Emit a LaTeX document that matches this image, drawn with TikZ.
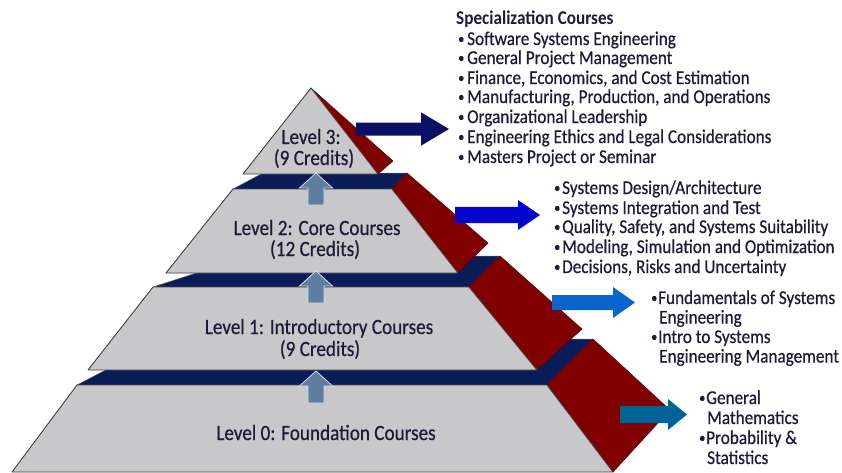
\documentclass[tikz,border=0pt]{standalone}
\usepackage{fontspec}
\setmainfont{Carlito}
\newfontfamily\cf[FakeStretch=0.88,FakeBold=0.6]{Carlito}
\newfontfamily\cfb[FakeStretch=0.88]{Carlito Bold}
\definecolor{pgray}{RGB}{200,200,203}
\definecolor{pnavy}{RGB}{10,28,88}
\definecolor{pred}{RGB}{128,0,0}
\definecolor{txt}{RGB}{28,28,58}
\definecolor{upblue}{RGB}{94,126,160}
\definecolor{arrthree}{RGB}{10,16,100}
\definecolor{arrtwo}{RGB}{5,5,205}
\definecolor{arrone}{RGB}{10,100,205}
\definecolor{arrzero}{RGB}{0,100,150}
\newcommand\bl[1]{\makebox[#1pt][l]{\raisebox{1.6pt}{\scalebox{0.72}{\textbullet}}}}
\newcommand\UpArr[3]{%
  \fill[upblue, draw=white!75!upblue, line width=.8pt]
    (#1-8,#3) -- (#1-8,#2+15) -- (#1-16.5,#2+15) -- (#1,#2) --
    (#1+16.5,#2+15) -- (#1+8,#2+15) -- (#1+8,#3) -- cycle;}
\newcommand\RtArr[7]{%
  \fill[#7] (#1,#4-#5) -- (#2,#4-#5) -- (#2,#4-#6) -- (#3,#4) --
    (#2,#4+#6) -- (#2,#4+#5) -- (#1,#4+#5) -- cycle;}
\begin{document}
\begin{tikzpicture}[x=1pt,y=-1pt,
  front/.style={fill=pgray, draw=black!75, line width=.9pt, line join=round},
  topface/.style={fill=pnavy, draw=black!60, line width=.5pt, line join=round},
  side/.style={fill=pred, draw=pred!60!black, line width=.5pt, line join=round},
  lst/.style={anchor=base west, inner sep=0pt, text=txt, font=\cf\fontsize{19.5}{20}\selectfont},
  lvl/.style={anchor=base, inner sep=0pt, text=txt, font=\cf\fontsize{21.8}{22}\selectfont}]
\useasboundingbox (0,0) rectangle (842,472);
% Tier 0
\draw[topface] (77,385) -- (547,385) -- (593,339) -- (165,339) -- cycle;
\draw[side] (547,385) -- (593,339) -- (670,410) -- (613,472) -- cycle;
\draw[front] (77,385) -- (547,385) -- (613,472) -- (12,472) -- cycle;
% Tier 1
\draw[topface] (153,287) -- (469,287) -- (500,256) -- (249,256) -- cycle;
\draw[side] (469,287) -- (500,256) -- (582,329) -- (537,370) -- cycle;
\draw[front] (153,287) -- (469,287) -- (537,370) -- (88,370) -- cycle;
% Tier 2
\draw[topface] (233,189) -- (392,189) -- (407,173) -- (263,173) -- cycle;
\draw[side] (392,189) -- (407,173) -- (488,243) -- (458,273) -- cycle;
\draw[front] (233,189) -- (392,189) -- (458,273) -- (166,273) -- cycle;
% Tier 3
\draw[side] (311,88) -- (393,161) -- (378,174) -- cycle;
\draw[front] (311,88) -- (378,174) -- (243,174) -- cycle;
% up arrows
\UpArr{316}{173}{205}
\UpArr{316}{271}{303}
\UpArr{316}{371}{403}
% tier labels
\node[lvl] (l3a) at (311,144) {Level 3:};
\node[lvl] (l3b) at (314,165) {(9 Credits)};
\node[lvl] (l2a) at (317,235) {Level 2: Core Courses};
\node[lvl] (l2b) at (315,256) {(12 Credits)};
\node[lvl] (l1a) at (319,334) {Level 1: Introductory Courses};
\node[lvl] (l1b) at (320,356) {(9 Credits)};
\node[lvl] (l0a) at (326,440) {Level 0: Foundation Courses};
% right arrows
\RtArr{356}{421}{449}{129}{6.5}{16.7}{arrthree}
\RtArr{455}{518}{540}{215}{8.2}{15}{arrtwo}
\RtArr{552}{613}{635}{302.5}{7.5}{15.5}{arrone}
\RtArr{620}{668}{687}{414.5}{8.5}{15.5}{arrzero}
% Level 3 list
\node[lst, font=\cfb\fontsize{19.5}{20}\selectfont] (s0) at (456,24) {Specialization Courses};
\node[lst] (s1) at (458,45) {\bl{9}Software Systems Engineering};
\node[lst] (s2) at (458,64) {\bl{9}General Project Management};
\node[lst] (s3) at (458,84) {\bl{9}Finance, Economics, and Cost Estimation};
\node[lst] (s4) at (458,103) {\bl{9}Manufacturing, Production, and Operations};
\node[lst] (s5) at (458,123) {\bl{9}Organizational Leadership};
\node[lst] (s6) at (458,143) {\bl{9}Engineering Ethics and Legal Considerations};
\node[lst] (s7) at (458,163) {\bl{9}Masters Project or Seminar};
% Level 2 list
\node[lst] (c1) at (554,194) {\bl{8}Systems Design/Architecture};
\node[lst] (c2) at (554,214) {\bl{8}Systems Integration and Test};
\node[lst] (c3) at (554,233) {\bl{8}Quality, Safety, and Systems Suitability};
\node[lst] (c4) at (554,253) {\bl{8}Modeling, Simulation and Optimization};
\node[lst] (c5) at (554,273) {\bl{8}Decisions, Risks and Uncertainty};
% Level 1 list
\node[lst] (i1) at (651,304) {\bl{7}Fundamentals of Systems};
\node[lst] (i2) at (659,323.5) {Engineering};
\node[lst] (i3) at (651,343) {\bl{7}Intro to Systems};
\node[lst] (i4) at (659,362.5) {Engineering Management};
% Level 0 list
\node[lst] (f1) at (699,404) {\bl{7}General};
\node[lst] (f2) at (707,424) {Mathematics};
\node[lst] (f3) at (699,444) {\bl{7}Probability \&};
\node[lst] (f4) at (707,464) {Statistics};
\end{tikzpicture}
\end{document}
